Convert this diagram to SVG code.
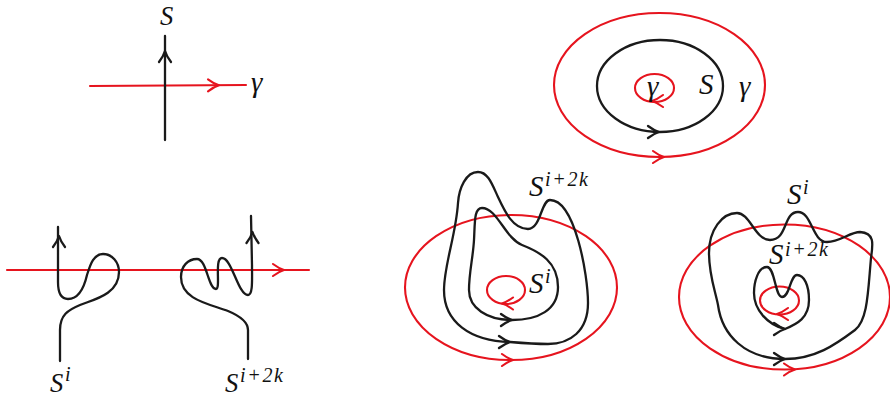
<svg xmlns="http://www.w3.org/2000/svg" width="890" height="398" viewBox="0 0 890 398">
<style>
.k{fill:none;stroke:#1a1a1a;stroke-width:2.3;stroke-linecap:round;stroke-linejoin:round}
.r{fill:none;stroke:#e6141e;stroke-width:2.1;stroke-linecap:round;stroke-linejoin:round}
text{font-family:"Liberation Serif",serif;font-style:italic;font-size:29px;fill:#111}
.s{font-size:20px}
.e{font-size:26.500px}
</style>
<defs><path id="ah" d="M-11 -6 Q-5 -1.500 0 0 Q-5 1.500 -11 6"/></defs>
<rect width="890" height="398" fill="#fff"/>
<g id="connectors">
<g id="cross">
<path class="r" d="M90 86L246 85"/><use href="#ah" class="r" transform="translate(219 85.300)"/>
<path class="k" d="M165 36V140"/><use href="#ah" class="k" transform="translate(165 51) rotate(-90)"/>
</g>
<g id="wiggle">
<path class="r" d="M7 270H309"/><use href="#ah" class="r" transform="translate(284 270)"/>
<path class="k" d="M60 361V330C60 315 68 310 80 305C92 300 119 295 119 272C119 262 112 254 103 254C93 254 90 266 87 275C84 288 79 299 68 299C61 299 58 293 58 282V227"/>
<use href="#ah" class="k" transform="translate(59 236) rotate(-90)"/>
<path class="k" d="M248 359V330C248 322 240 316 228 311C210 304 181 300 181 277C181 266 188 259 197 259C207 259 208 289 216 289C221 289 214 258 222 258C232 258 238 295 248 295C253 295 252 280 252 265L251 216"/>
<use href="#ah" class="k" transform="translate(252.500 232) rotate(-90)"/>
</g>
<g id="circles">
<ellipse class="r" cx="659.500" cy="85" rx="105.500" ry="72"/><use href="#ah" class="r" transform="translate(664 157)"/>
<ellipse class="k" cx="660" cy="86" rx="63" ry="46"/><use href="#ah" class="k" transform="translate(659 132)"/>
<ellipse class="r" cx="654.500" cy="88" rx="19.500" ry="14"/><use href="#ah" class="r" transform="translate(652 101) rotate(180)"/>
</g>
<g id="middle">
<ellipse class="r" cx="511" cy="287.500" rx="106" ry="72.500"/><use href="#ah" class="r" transform="translate(513 360)"/>
<ellipse class="r" cx="506" cy="290" rx="19" ry="14"/><use href="#ah" class="r" transform="translate(502 303.500) rotate(180)"/>
<path class="k" d="M510 342C522 343 535 344 548 344C570 344 588 331 588 303C588 275 575 200 550 200C541 200 541 229 528 229C513 229 505 212 498 197C492 184 488 172 478 172C466 172 459 188 458 203C456 235 444 265 444 290C444 322 470 341 510 342Z"/>
<use href="#ah" class="k" transform="translate(510 342)"/>
<path class="k" d="M512 320C538 320 558 310 558 287C558 262 540 252 522 245C505 238 497 208 482 208C474 208 475 222 474 240C473 258 469 272 469 290C469 308 487 320 512 320Z"/>
<use href="#ah" class="k" transform="translate(512 320)"/>
</g>
<g id="right">
<ellipse class="r" cx="784.500" cy="297" rx="105.500" ry="72.500"/><use href="#ah" class="r" transform="translate(795 369.500)"/>
<ellipse class="r" cx="779.500" cy="300.500" rx="19.500" ry="14"/><use href="#ah" class="r" transform="translate(777 314) rotate(180)"/>
<path class="k" d="M785 359C815 359 835 345 855 330C868 320 868 290 871 258C873 244 875 233 860 232C850 232 840 242 827 242C812 242 812 212 798 212C783 212 788 240 770 240C755 240 750 213 737 213C722 213 709 230 709 253C709 275 715 290 718 305C722 335 745 359 785 359Z"/>
<use href="#ah" class="k" transform="translate(785 359)"/>
<path class="k" d="M785 329C797 324 809 318 809 300C809 285 804 275 797 275C790 275 790 297 782 297C775 297 775 267 767 267C758 267 754 282 754 293C754 310 768 325 785 329Z"/>
<use href="#ah" class="k" transform="translate(785 329)"/>
</g>
</g>
<g id="label-S"><text class="e" x="160" y="24.500">S</text></g>
<g id="label-gamma"><text x="251" y="92">γ</text></g>
<g id="label-Si-left"><text class="e" x="50" y="391.500">S</text><text class="s" x="65" y="381">i</text></g>
<g id="label-Si2k-left"><text class="e" x="225" y="391.500">S</text><text class="s" x="240" y="382" textLength="43">i+2k</text></g>
<g id="label-gamma-inner"><text x="647" y="96">γ</text></g>
<g id="label-S-circle"><text x="699" y="94">S</text></g>
<g id="label-gamma-outer"><text x="739" y="96">γ</text></g>
<g id="label-Si2k-mid"><text x="529" y="196">S</text><text class="s" x="545" y="186" textLength="43">i+2k</text></g>
<g id="label-Si-mid"><text x="529" y="293">S</text><text class="s" x="545" y="283">i</text></g>
<g id="label-Si-right"><text x="787" y="204">S</text><text class="s" x="803" y="194">i</text></g>
<g id="label-Si2k-right"><text x="769" y="264">S</text><text class="s" x="785" y="256" textLength="43">i+2k</text></g>
</svg>
